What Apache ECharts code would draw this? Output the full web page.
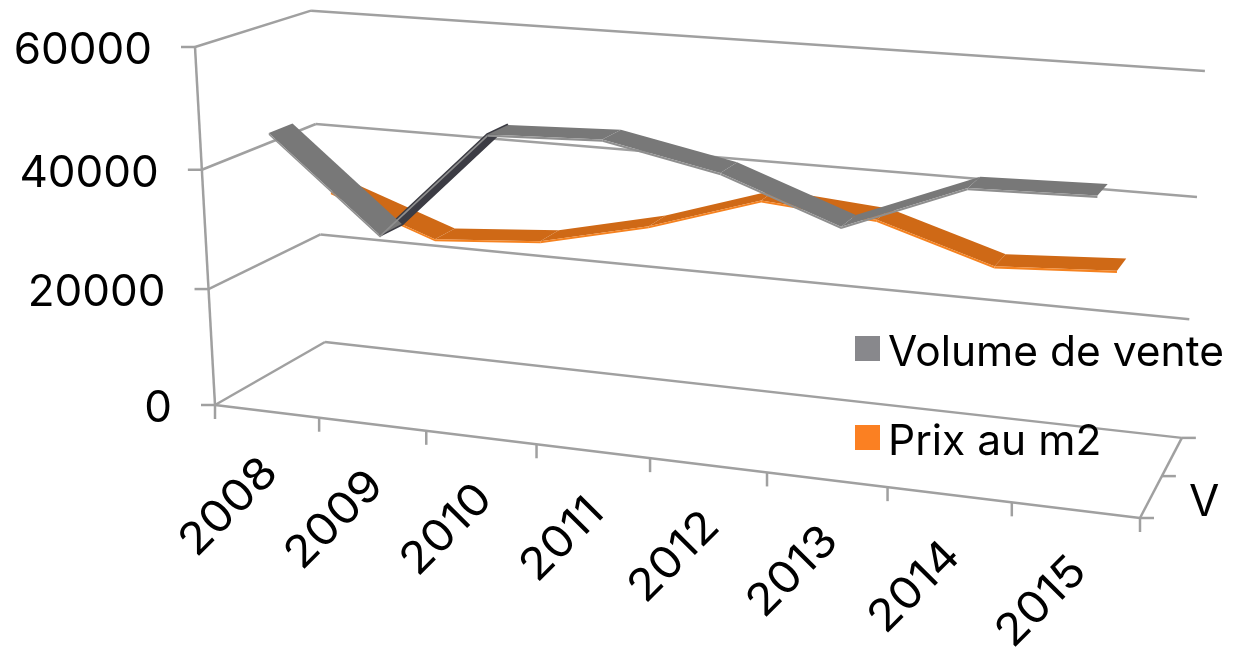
<!DOCTYPE html>
<html>
<head>
<meta charset="utf-8">
<style>html,body{margin:0;padding:0;background:#fff}#main{width:1233px;height:651px}</style>
<script src="https://cdn.jsdelivr.net/npm/echarts@6/dist/echarts.min.js"></script>
</head>
<body>
<div id="main"></div>
<script>
const categories = ['2008', '2009', '2010', '2011', '2012', '2013', '2014', '2015']
const volumeVente = [45800, 30500, 48500, 49200, 45500, 38800, 46400, 46900]
const prixM2 = [31500, 25000, 26400, 30700, 36700, 35200, 29400, 30500]
const yTicks = [0, 20000, 40000, 60000]
const seriesTick = 'V'

// perspective box: corner at origin, the three axis ends and their weights
const P000 = [215, 405], P100 = [1140, 518], P010 = [195, 47], P001 = [325, 342]
const WU = 0.888, WV = 0.958, WW = 1.085
const FONT = 'Inter'
const LINE = '#a0a0a0'

function project (u, v, w) {
  const d = 1 + (WU - 1) * u + (WV - 1) * v + (WW - 1) * w
  return [0, 1].map(k => (P000[k] + u * (WU * P100[k] - P000[k]) + v * (WV * P010[k] - P000[k]) + w * (WW * P001[k] - P000[k])) / d)
}

// goes through the hidden axes to get the 0..1 position, then the box
function toBox (api, x, y, w) {
  const c = api.coord([x, y])
  return project(c[0] / api.getWidth(), 1 - c[1] / api.getHeight(), w)
}

function line (a, b) {
  return { type: 'line', shape: { x1: a[0], y1: a[1], x2: b[0], y2: b[1] }, style: { stroke: LINE, lineWidth: 2.5 } }
}

function label (text, x, y, opts) {
  return { type: 'text', x: x, y: y, rotation: opts.rotation || 0, scaleX: opts.scaleX || 1, style: { text: text, fill: '#000', font: '44px ' + FONT, align: opts.align, verticalAlign: 'middle' } }
}

function renderYTick (params, api) {
  const val = api.value(1)
  const a = toBox(api, -0.5, val, 0)
  const b = toBox(api, -0.5, val, 1)
  const c = toBox(api, 7.5, val, 1)
  return { type: 'group', children: [
    line(a, b), line(b, c), line(a, [a[0] - 14, a[1]]),
    label(String(val), a[0] - 43, a[1] + 4, { align: 'right' })
  ] }
}

function renderXTick (params, api) {
  const i = api.value(0)
  const a = toBox(api, i - 0.5, 0, 0)
  const m = toBox(api, i, 0, 0)
  const children = [line(a, [a[0], a[1] + 14])]
  children.push(label(categories[i], m[0] + 4, m[1] + 54, { align: 'right', rotation: Math.PI / 4, scaleX: 1.08 }))
  return { type: 'group', children: children }
}

function renderFrame (params, api) {
  const x0 = -0.5, x1 = 7.5
  const fl = toBox(api, x0, 0, 0), fr = toBox(api, x1, 0, 0), br = toBox(api, x1, 0, 1)
  const top = toBox(api, x0, 60000, 0), mid = toBox(api, x1, 0, 0.5)
  const endTick = toBox(api, x1, 0, 0)
  return { type: 'group', children: [
    line(fl, top), line(fl, fr), line(fr, br),
    line(endTick, [endTick[0], endTick[1] + 14]),
    line(fr, [fr[0] + 14, fr[1]]), line(mid, [mid[0] + 14, mid[1]]), line(br, [br[0] + 14, br[1]]),
    label(seriesTick, (fr[0] + mid[0]) / 2 + 38, (fr[1] + mid[1]) / 2 + 6, { align: 'left' })
  ] }
}

function ribbon (colors, w0, w1) {
  return function (params, api) {
    const x0 = api.value(0), v0 = api.value(1), x1 = api.value(2), v1 = api.value(3)
    const a = toBox(api, x0, v0, w0), b = toBox(api, x1, v1, w0)
    const c = toBox(api, x1, v1, w1), d = toBox(api, x0, v0, w1)
    const area = (b[0] - a[0]) * (d[1] - a[1]) - (b[1] - a[1]) * (d[0] - a[0])
    const under = area > 0
    const slope = Math.abs((b[1] - a[1]) / (b[0] - a[0]))
    const fill = under ? (slope > 0.6 ? colors.under : colors.under2) : colors.face
    const children = [{
      type: 'polygon',
      z2: under ? 0 : 1,
      shape: { points: [a, b, c, d] },
      style: { fill: fill, stroke: under ? fill : null, lineWidth: 3, lineJoin: 'bevel' }
    }]
    const a2 = toBox(api, x0, v0 - 350, w0), b2 = toBox(api, x1, v1 - 350, w0)
    children.push({ type: 'polygon', z2: 2, shape: { points: [a, b, b2, a2] }, style: { fill: colors.edge } })
    return { type: 'group', children: children }
  }
}

function segments (values) {
  return values.slice(0, -1).map((v, i) => [i, v, i + 1, values[i + 1]])
}

const chart = echarts.init(document.getElementById('main'))
chart.setOption({
  animation: false,
  backgroundColor: '#fff',
  grid: { left: 0, right: 0, top: 0, bottom: 0 },
  xAxis: { type: 'value', min: -0.5, max: 7.5, show: false },
  yAxis: { type: 'value', min: 0, max: 60000, show: false },
  legend: {
    orient: 'vertical', left: 850, top: 327, itemWidth: 25, itemHeight: 35, itemGap: 46,
    // the empty tail below the square lifts the swatch above the text centre
    icon: 'path://M0 0H25V25H0Z M0 35L0 35', selectedMode: false,
    data: ['Volume de vente', 'Prix au m2'],
    textStyle: { fontFamily: FONT, fontSize: 42.5, color: '#000', padding: [0, 0, 0, 3] }
  },
  series: [
    { type: 'custom', silent: true, clip: false, data: yTicks.map(t => [0, t]), renderItem: renderYTick, encode: { x: 0, y: 1 } },
    { type: 'custom', silent: true, clip: false, data: [[0, 0]], renderItem: renderFrame, encode: { x: 0, y: 1 } },
    { type: 'custom', silent: true, clip: false, data: categories.map((c, i) => [i, 0]), renderItem: renderXTick, encode: { x: 0, y: 1 } },
    { name: 'Prix au m2', type: 'custom', silent: true, clip: false, data: segments(prixM2), z: 3,
      itemStyle: { color: '#fb8022' }, encode: { x: 0, y: 1 },
      renderItem: ribbon({ face: '#cf6916', edge: '#f58220', under: '#a85510', under2: '#b85e12' }, 0.65, 0.855) },
    { name: 'Volume de vente', type: 'custom', silent: true, clip: false, data: segments(volumeVente), z: 4,
      itemStyle: { color: '#88888c' }, encode: { x: 0, y: 1 },
      renderItem: ribbon({ face: '#787878', edge: '#8f8f8f', under: '#3c3c44', under2: '#5c6262' }, 0.13, 0.335) }
  ]
})
</script>
</body>
</html>
